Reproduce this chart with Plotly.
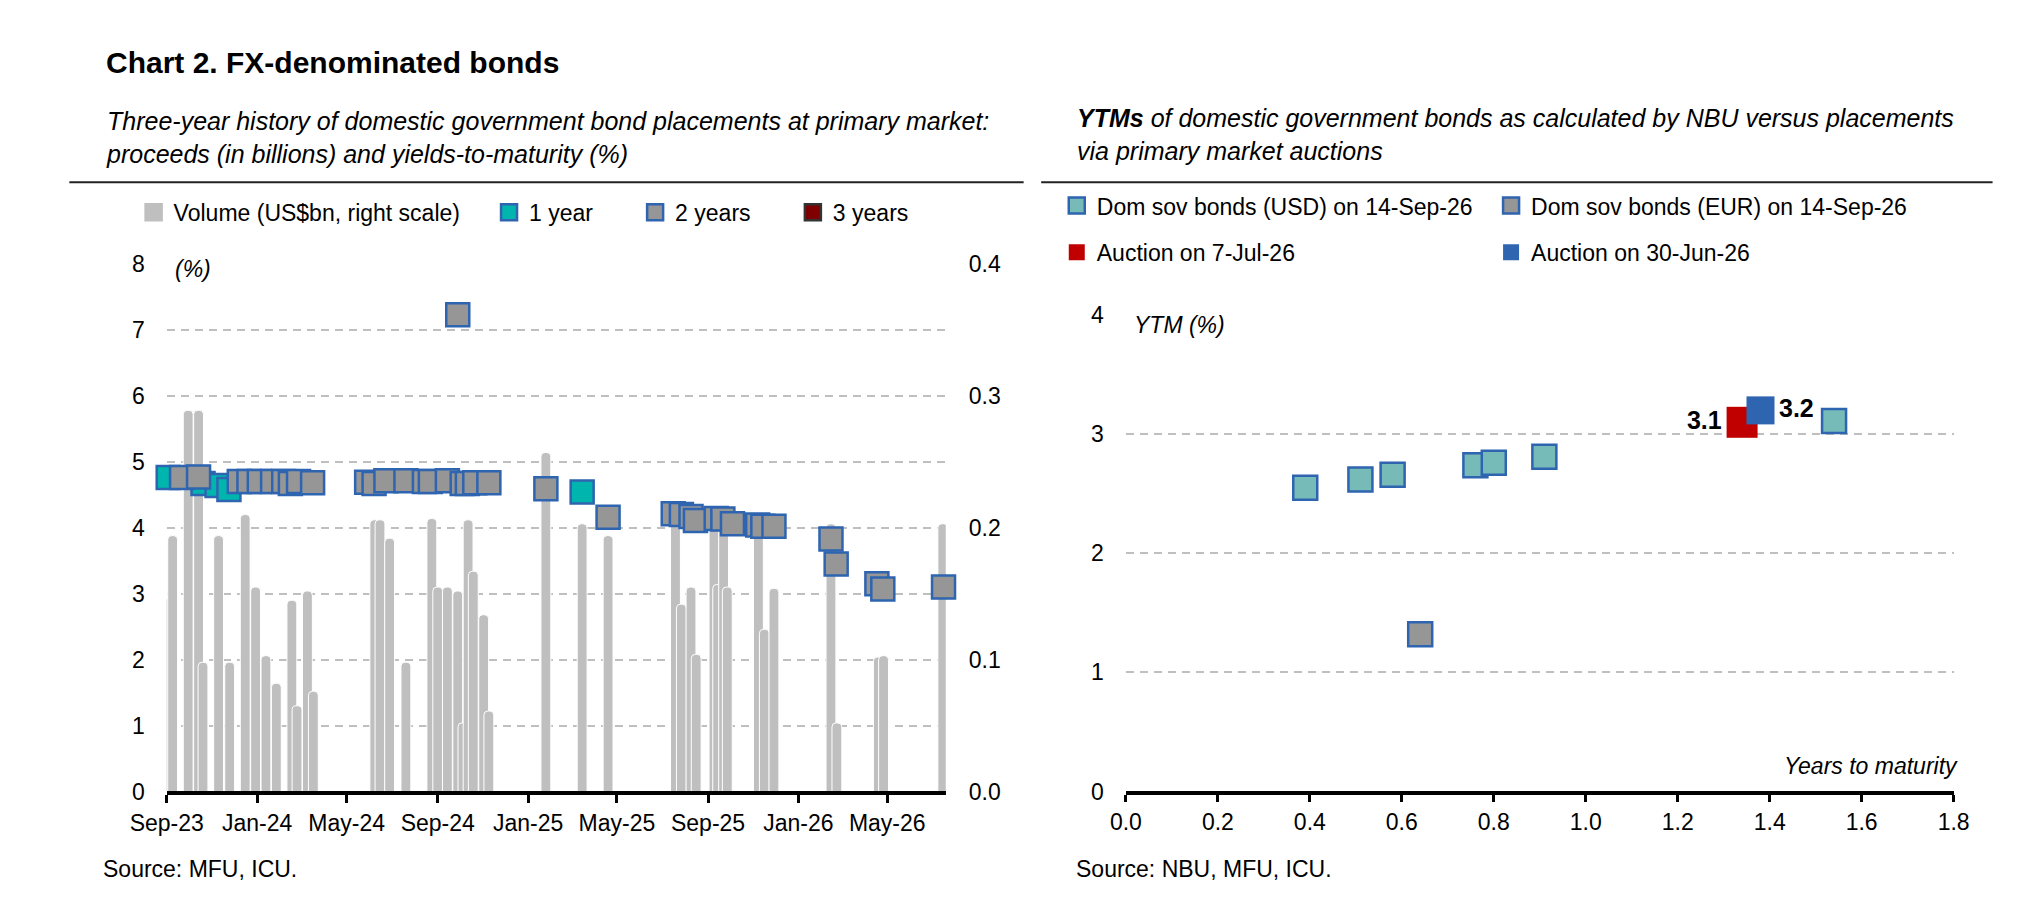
import plotly.graph_objects as go

W, H = 2022, 916
FONT = "Liberation Sans, Arial, sans-serif"


def fx(px):
    return px / W


def fy(py):
    return 1 - py / H


# ---- left chart: placements volume (right scale) ----
bar_dates = [
    "2023-09-03", "2023-09-09", "2023-09-30", "2023-10-14", "2023-10-20",
    "2023-11-10", "2023-11-25", "2023-12-16", "2023-12-30", "2024-01-13",
    "2024-01-27", "2024-02-17", "2024-02-24", "2024-03-09", "2024-03-17",
    "2024-06-08", "2024-06-15", "2024-06-28", "2024-07-20", "2024-08-24",
    "2024-09-01", "2024-09-14", "2024-09-28", "2024-10-05", "2024-10-12",
    "2024-10-19", "2024-11-02", "2024-11-09", "2025-01-25", "2025-03-15",
    "2025-04-19", "2025-07-19", "2025-07-27", "2025-08-09", "2025-08-16",
    "2025-09-09", "2025-09-14", "2025-09-22", "2025-09-27", "2025-11-08",
    "2025-11-16", "2025-11-29", "2026-02-14", "2026-02-22", "2026-04-19",
    "2026-04-26", "2026-07-15",
]
bar_volumes = [
    0.146, 0.194, 0.289, 0.289, 0.098,
    0.194, 0.098, 0.210, 0.155, 0.103,
    0.082, 0.145, 0.065, 0.152, 0.076,
    0.206, 0.206, 0.192, 0.098, 0.207,
    0.155, 0.155, 0.152, 0.052, 0.206,
    0.167, 0.134, 0.061, 0.257, 0.203,
    0.194, 0.210, 0.142, 0.155, 0.104,
    0.205, 0.157, 0.200, 0.155, 0.200,
    0.123, 0.154, 0.203, 0.052, 0.102,
    0.103, 0.203,
]

# YTM of placements (%), by tenor
y1_dates = ["2023-09-03", "2023-10-20", "2023-11-08", "2023-11-24", "2025-03-15"]
y1_ytm = [4.76, 4.67, 4.64, 4.58, 4.54]

y2_dates = [
    "2023-09-21", "2023-10-14", "2023-12-08", "2023-12-21", "2024-01-04",
    "2024-01-22", "2024-02-06", "2024-02-15", "2024-02-26", "2024-03-16",
    "2024-05-28", "2024-06-07", "2024-06-23", "2024-07-20", "2024-08-14",
    "2024-08-22", "2024-09-14", "2024-09-28", "2024-10-04", "2024-10-11",
    "2024-10-21", "2024-11-09", "2025-01-25", "2025-04-19", "2025-07-16",
    "2025-07-27", "2025-08-09", "2025-08-15", "2025-09-12", "2025-09-21",
    "2025-10-04", "2025-11-07", "2025-11-14", "2025-11-29", "2026-02-14",
    "2026-02-21", "2026-04-17", "2026-04-25", "2026-07-16",
]
y2_ytm = [
    4.76, 4.77, 4.70, 4.70, 4.70,
    4.70, 4.70, 4.67, 4.70, 4.68,
    4.69, 4.67, 4.71, 4.71, 4.70,
    4.70, 4.71, 7.23, 4.67, 4.67,
    4.68, 4.68, 4.59, 4.16, 4.21,
    4.20, 4.17, 4.11, 4.14, 4.13,
    4.06, 4.04, 4.02, 4.02, 3.83,
    3.45, 3.15, 3.07, 3.10,
]

y3_dates = []
y3_ytm = []

# ---- right chart: YTM vs years to maturity ----
usd_years = [0.39, 0.51, 0.58, 0.76, 0.80, 0.91, 1.54]
usd_ytm = [2.55, 2.62, 2.66, 2.74, 2.76, 2.81, 3.11]
eur_years = [0.64]
eur_ytm = [1.32]
auc_jul_years = [1.34]
auc_jul_ytm = [3.1]
auc_jul_label = ["3.1"]
auc_jun_years = [1.38]
auc_jun_ytm = [3.2]
auc_jun_label = ["3.2"]

GRID = "#BFBFBF"
BAR = "#BFBFBF"
BLUE_EDGE = "#2E64B0"
GREY_FILL = "#969696"
TEAL = "#00B5AD"
FS = 23  # ticks, legends, notes

fig = go.Figure()

fig.add_trace(go.Bar(
    x=bar_dates, y=bar_volumes, name="Volume (US$bn, right scale)",
    marker=dict(color=BAR, line=dict(color="white", width=1)),
    width=1.15e9, xaxis="x", yaxis="y", showlegend=False, legend="legend4",
))
# legend swatch for the volume bars (bar swatches in plotly are too small)
fig.add_trace(go.Scatter(
    x=[None], y=[None], name="Volume (US$bn, right scale)", mode="markers",
    marker=dict(symbol="square", size=16, color=BAR, line=dict(color=BAR, width=2.5)),
    xaxis="x", yaxis="y2", legend="legend",
))
fig.add_trace(go.Scatter(
    x=y1_dates, y=y1_ytm, name="1 year", mode="markers",
    marker=dict(symbol="square", size=23, color=TEAL, line=dict(color=BLUE_EDGE, width=2.5)),
    xaxis="x", yaxis="y2", legend="legend2", cliponaxis=False,
))
fig.add_trace(go.Scatter(
    x=y2_dates, y=y2_ytm, name="2 years", mode="markers",
    marker=dict(symbol="square", size=23, color=GREY_FILL, line=dict(color=BLUE_EDGE, width=2.5)),
    xaxis="x", yaxis="y2", legend="legend3", cliponaxis=False,
))
fig.add_trace(go.Scatter(
    x=y3_dates or [None], y=y3_ytm or [None], name="3 years", mode="markers",
    marker=dict(symbol="square", size=23, color="#7F0000", line=dict(color="#333333", width=2.5)),
    xaxis="x", yaxis="y2", legend="legend4",
))

fig.add_trace(go.Scatter(
    x=usd_years, y=usd_ytm, name="Dom sov bonds (USD) on 14-Sep-26", mode="markers",
    marker=dict(symbol="square", size=24, color="#76BBB8", line=dict(color=BLUE_EDGE, width=2.5)),
    xaxis="x2", yaxis="y3", legend="legend5", cliponaxis=False,
))
fig.add_trace(go.Scatter(
    x=eur_years, y=eur_ytm, name="Dom sov bonds (EUR) on 14-Sep-26", mode="markers",
    marker=dict(symbol="square", size=24, color=GREY_FILL, line=dict(color=BLUE_EDGE, width=2.5)),
    xaxis="x2", yaxis="y3", legend="legend6", cliponaxis=False,
))
fig.add_trace(go.Scatter(
    x=auc_jul_years, y=auc_jul_ytm, name="Auction on 7-Jul-26", mode="markers+text",
    text=auc_jul_label, textposition="middle left",
    textfont=dict(family=FONT, size=25, color="black", weight="bold"),
    marker=dict(symbol="square", size=31, color="#C00000"),
    xaxis="x2", yaxis="y3", legend="legend7", cliponaxis=False,
))
fig.add_trace(go.Scatter(
    x=auc_jun_years, y=auc_jun_ytm, name="Auction on 30-Jun-26", mode="markers+text",
    text=auc_jun_label, textposition="middle right",
    textfont=dict(family=FONT, size=25, color="black", weight="bold"),
    marker=dict(symbol="square", size=28, color=BLUE_EDGE),
    xaxis="x2", yaxis="y3", legend="legend8", cliponaxis=False,
))


def legend_at(text_x, y):
    return dict(
        x=fx(text_x - 42), y=fy(y), xanchor="left", yanchor="middle",
        orientation="h", bgcolor="rgba(0,0,0,0)", borderwidth=0,
        font=dict(family=FONT, size=FS, color="black"),
        itemclick=False, itemdoubleclick=False,
    )


tickfont = dict(family=FONT, size=FS, color="black")
dash = "8px,6px"

fig.update_layout(
    width=W, height=H,
    margin=dict(l=0, r=0, t=0, b=0),
    paper_bgcolor="white", plot_bgcolor="white",
    font=dict(family=FONT, size=FS, color="black"),
    barmode="overlay", barcornerradius=4,
    showlegend=True,
    legend=legend_at(133, 197),
    legend2=legend_at(498, 197),
    legend3=legend_at(648, 197),
    legend4=legend_at(810, 197),
    legend5=legend_at(1081, 190),
    legend6=legend_at(1527, 190),
    legend7=legend_at(1081, 238),
    legend8=legend_at(1527, 238),
    xaxis=dict(
        domain=[fx(125), fx(925)], anchor="y", type="date",
        range=["2023-09-01", "2026-07-19"],
        tick0="2023-09-01", dtick="M4", tickformat="%b-%y",
        showgrid=False, showline=True, linecolor="black", linewidth=4,
        ticks="outside", ticklen=8, tickwidth=2.5, tickcolor="black",
        tickfont=tickfont, zeroline=False,
    ),
    yaxis=dict(
        domain=[fy(793), fy(250)], anchor="x", side="right",
        range=[0, 0.4], dtick=0.1, tickformat=".1f",
        showgrid=False, zeroline=False, showline=False,
        tickfont=tickfont, ticklabelstandoff=22,
    ),
    yaxis2=dict(
        overlaying="y", anchor="x", side="left",
        range=[0, 8], dtick=1,
        showgrid=True, gridcolor=GRID, gridwidth=2, griddash=dash,
        zeroline=False, showline=False,
        tickfont=tickfont, ticklabelstandoff=21,
    ),
    xaxis2=dict(
        domain=[fx(1110), fx(1960)], anchor="y3",
        range=[0, 1.8], dtick=0.2, tickformat=".1f",
        showgrid=False, showline=True, linecolor="black", linewidth=4,
        ticks="outside", ticklen=7, tickwidth=2.5, tickcolor="black",
        tickfont=tickfont, zeroline=False,
    ),
    yaxis3=dict(
        domain=[fy(793), fy(302.7)], anchor="x2",
        range=[0, 4], dtick=1,
        showgrid=True, gridcolor=GRID, gridwidth=2, griddash=dash,
        zeroline=False, showline=False,
        tickfont=tickfont, ticklabelstandoff=21,
    ),
)

annotations = [
    dict(text="<b>Chart 2. FX-denominated bonds</b>", x=fx(61), y=fy(43),
         font=dict(size=30)),
    dict(text="<i>Three-year history of domestic government bond placements at primary market:"
              "<br>proceeds (in billions) and yields-to-maturity (%)</i>",
         x=fx(61), y=fy(120), font=dict(size=25)),
    dict(text="<i><b>YTMs</b> of domestic government bonds as calculated by NBU versus placements"
              "<br>via primary market auctions</i>",
         x=fx(1058), y=fy(117), font=dict(size=25)),
    dict(text="<i>(%)</i>", x=fx(125), y=fy(255), bgcolor="white", borderpad=7,
         font=dict(size=FS)),
    dict(text="<i>YTM (%)</i>", x=fx(1110), y=fy(313), bgcolor="white", borderpad=7,
         font=dict(size=FS)),
    dict(text="<i>Years to maturity</i>", x=fx(1967), y=fy(767), xanchor="right",
         font=dict(size=FS)),
    dict(text="Source: MFU, ICU.", x=fx(58), y=fy(873), font=dict(size=FS)),
    dict(text="Source: NBU, MFU, ICU.", x=fx(1057), y=fy(873), font=dict(size=FS)),
]
for a in annotations:
    a.setdefault("xanchor", "left")
    a.update(xref="paper", yref="paper", yanchor="middle", showarrow=False, align="left")
    a["font"] = dict(family=FONT, color="black", **a["font"])
fig.update_layout(annotations=annotations)

# rules under the two subtitles
fig.add_shape(type="line", xref="paper", yref="paper", x0=fx(25), x1=fx(1005),
              y0=fy(166), y1=fy(166), line=dict(color="#222222", width=2))
fig.add_shape(type="line", xref="paper", yref="paper", x0=fx(1023), x1=fx(2000),
              y0=fy(166), y1=fy(166), line=dict(color="#222222", width=2))

fig.write_html("out.html")
